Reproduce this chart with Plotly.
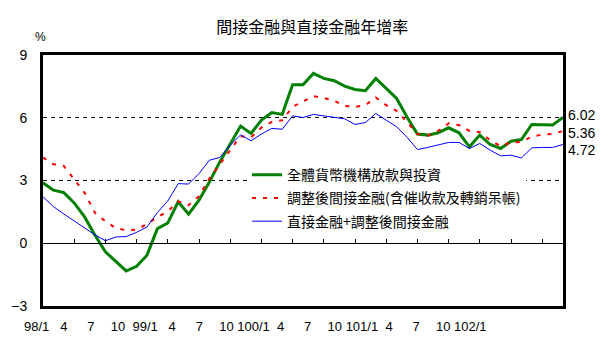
import plotly.graph_objects as go

months = list(range(51))  # 98/1 ... 102/3
green = [2.89, 2.54, 2.42, 1.93, 1.26, 0.38, -0.41, -0.85, -1.32, -1.10, -0.57, 0.70, 0.97, 1.98, 1.39,
         2.06, 2.93, 3.89, 4.77, 5.60, 5.25, 5.89, 6.25, 6.16, 7.58, 7.58, 8.12, 7.88, 7.77, 7.51,
         7.35, 7.29, 7.88, 7.40, 6.92, 6.04, 5.22, 5.17, 5.28, 5.52, 5.28, 4.61, 5.17, 4.72, 4.53,
         4.88, 4.96, 5.68, 5.65, 5.65, 6.02]
red = [4.10, 3.78, 3.70, 3.05, 2.41, 1.45, 1.05, 0.72, 0.62, 0.65, 0.92, 1.25, 1.53, 2.00, 1.82,
       2.25, 3.09, 3.78, 4.48, 5.12, 5.06, 5.53, 5.80, 5.88, 6.52, 6.76, 7.03, 6.95, 6.81, 6.57,
       6.52, 6.60, 6.97, 6.60, 6.33, 5.80, 5.22, 5.14, 5.37, 5.73, 5.65, 5.37, 5.31, 4.93, 4.64,
       4.82, 4.85, 5.09, 5.20, 5.23, 5.36]
blue = [2.22, 1.75, 1.40, 1.07, 0.73, 0.40, 0.12, 0.30, 0.32, 0.52, 0.78, 1.47, 2.02, 2.85, 2.83,
        3.33, 3.97, 4.10, 4.69, 5.18, 4.90, 5.22, 5.49, 5.45, 6.09, 6.01, 6.16, 6.08, 6.03, 5.95,
        5.68, 5.77, 6.20, 5.88, 5.57, 5.07, 4.48, 4.58, 4.70, 4.82, 4.82, 4.53, 4.77, 4.45, 4.18,
        4.21, 4.08, 4.56, 4.58, 4.58, 4.72]
names = ["全體貨幣機構放款與投資", "調整後間接金融(含催收款及轉銷呆帳)", "直接金融+調整後間接金融"]
x_labels = ["98/1", "4", "7", "10", "99/1", "4", "7", "10", "100/1", "4", "7", "10",
            "101/1", "4", "7", "10", "102/1"]
y_ticks = [-3, 0, 3, 6, 9]
end_labels = ["6.02", "5.36", "4.72"]

CJK = "Noto Sans CJK TC"
NUM = "Liberation Sans Narrow, Liberation Sans, Arial"

W, H = 605, 352
ML, MR = 20, 20
PW = W - ML - MR
plot_left, plot_right = 43, 563
x_dom = [(plot_left - ML) / PW, (plot_right - ML) / PW]

fig = go.Figure()
fig.add_trace(go.Scatter(x=months, y=green, mode="lines", name=names[0], legendgroup="a",
                         line=dict(color="#008000", width=3)))
fig.add_trace(go.Scatter(x=months, y=red, mode="lines", name=names[1], legendgroup="b",
                         line=dict(color="#FF0000", width=2, dash="4px,7px")))
fig.add_trace(go.Scatter(x=months, y=blue, mode="lines", name=names[2], legendgroup="c",
                         line=dict(color="#0000FF", width=1)))
# helper traces for the label axis and zero-line axis
fig.add_trace(go.Scatter(x=[], y=[], xaxis="x2", yaxis="y2", showlegend=False))
fig.add_trace(go.Scatter(x=[], y=[], xaxis="x3", showlegend=False))

series_end = [green[-1], red[-1], blue[-1]]
yshifts = [2, -2, -5]
for txt, v, ys in zip(end_labels, series_end, yshifts):
    fig.add_annotation(x=months[-1], y=v, xref="x", yref="y", text=txt, showarrow=False,
                       xanchor="left", yanchor="middle", xshift=3, yshift=ys,
                       font=dict(family=NUM, size=14, color="black"))

fig.add_annotation(x=0, y=1, xref="x domain", yref="y domain", text="%", showarrow=False,
                   xanchor="center", yanchor="bottom", xshift=-3, yshift=9,
                   font=dict(family=NUM, size=12, color="black"))

# label axis: 17 labels spaced ~27.1 px starting ~36.7 px
lab_step = 27.1
lab_first = 36.7
a = -(lab_first - ML) / lab_step
b = a + PW / lab_step

fig.update_layout(
    width=W, height=H,
    margin=dict(l=ML, r=MR, t=55, b=46, autoexpand=False),
    paper_bgcolor="white", plot_bgcolor="rgba(0,0,0,0)",
    title=dict(text="間接金融與直接金融年增率", x=0.516, xref="container", y=0.923,
               yanchor="middle", xanchor="center",
               font=dict(family=CJK, size=16, color="black")),
    showlegend=True,
    legend=dict(x=(247 - ML) / PW, y=0.585, xanchor="left", yanchor="top", bgcolor="white",
                traceorder="grouped", tracegroupgap=2,
                font=dict(family=CJK, size=14, color="black")),
    xaxis=dict(domain=x_dom, range=[0, 50], showline=True, mirror=True, linewidth=3,
               linecolor="black", showgrid=False, zeroline=False, showticklabels=False, ticks=""),
    xaxis2=dict(anchor="y2", side="bottom", domain=[0, 1],
                range=[a, b], tickmode="array", tickvals=list(range(len(x_labels))),
                ticktext=x_labels, tickangle=0, automargin=False,
                showline=False, showgrid=False, zeroline=False, ticks="",
                ticklabelstandoff=11,
                tickfont=dict(family=NUM, size=13, color="black")),
    yaxis2=dict(anchor="x2", domain=[0, 1], range=[y_ticks[0], y_ticks[-1]], visible=False,
                showgrid=False, zeroline=False),
    xaxis3=dict(overlaying="x", anchor="free", automargin=False,
                position=(0 - y_ticks[0]) / (y_ticks[-1] - y_ticks[0]),
                range=[0, 50], showline=True, linewidth=1, linecolor="black",
                ticks="inside", ticklen=4, tickcolor="black", tickwidth=1,
                tickmode="array", tickvals=months[3::3], showticklabels=False,
                showgrid=False, zeroline=False),
    yaxis=dict(range=[y_ticks[0], y_ticks[-1]], tickvals=y_ticks, showline=True, mirror=True,
               linewidth=3, linecolor="black", showgrid=True, gridcolor="black", gridwidth=1,
               griddash="4px,4px", zeroline=False, ticks="", ticklabelstandoff=10,
               automargin=False,
               tickfont=dict(family=NUM, size=14, color="black")),
)

fig.write_html("out.html")
